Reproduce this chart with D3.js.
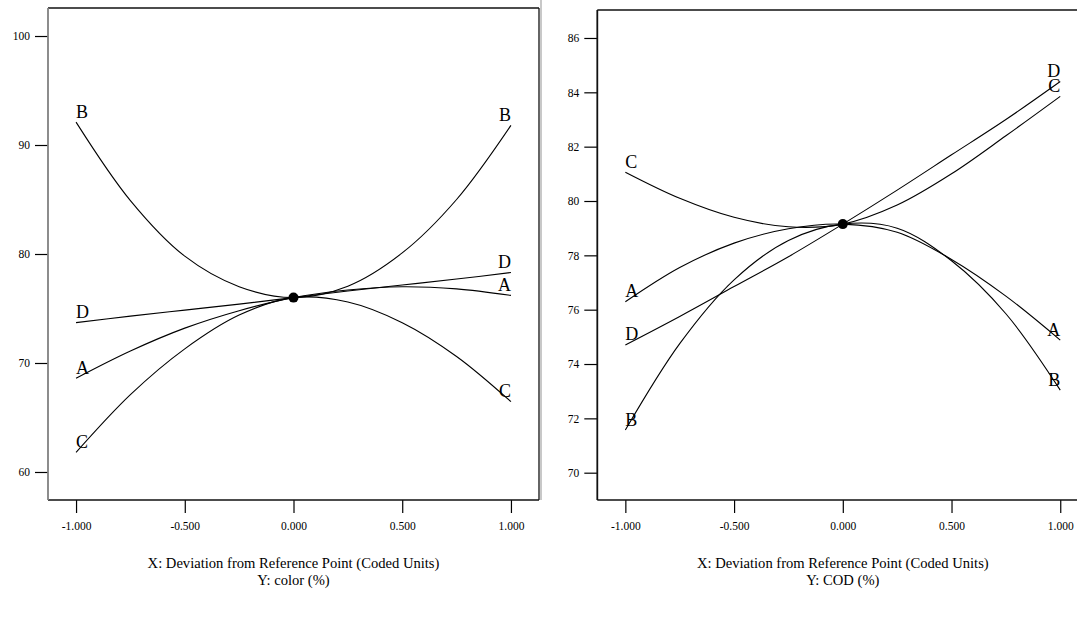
<!DOCTYPE html>
<html>
<head>
<meta charset="utf-8">
<script src="https://cdn.jsdelivr.net/npm/d3@7"></script>
<style>
  html, body { margin: 0; padding: 0; background: #fff; }
  svg { display: block; font-family: "Liberation Serif", "Times New Roman", serif; }
</style>
</head>
<body>
<div id="chart"></div>
<script>
// coded deviation from the reference point
const xs = [-1, -0.75, -0.5, -0.25, 0, 0.25, 0.5, 0.75, 1];
const xTicks = [-1, -0.5, 0, 0.5, 1];
const factors = ["A", "B", "C", "D"];

// Y: color (%)
const colorA = [68.6, 71.1, 73.2, 74.8, 76.0, 76.7, 77.0, 76.8, 76.2];
const colorB = [92.1, 84.9, 79.8, 77.0, 76.0, 77.05, 80.1, 85.0, 91.8];
const colorC = [61.8, 67.1, 71.3, 74.4, 76.0, 75.6, 73.7, 70.6, 66.45];
const colorD = [73.7, 74.3, 74.85, 75.4, 76.0, 76.6, 77.15, 77.7, 78.3];
const colorTicks = [60, 70, 80, 90, 100];

// Y: COD (%)
const codA = [76.29, 77.55, 78.45, 78.98, 79.15, 78.85, 77.85, 76.5, 74.88];
const codB = [71.57, 74.75, 77.1, 78.55, 79.15, 79.0, 77.8, 75.85, 73.04];
const codC = [81.06, 80.1, 79.4, 79.05, 79.15, 79.85, 81.0, 82.4, 83.85];
const codD = [74.7, 75.75, 76.85, 77.95, 79.15, 80.4, 81.7, 83.0, 84.4];
const codTicks = [70, 72, 74, 76, 78, 80, 82, 84, 86];

const W = 1077, H = 624;

const svg = d3.select("#chart").append("svg")
  .attr("width", W)
  .attr("height", H);

function drawPanel(opts) {
  const { left, right, top, bottom, yDomain, yTicks, series, yName, frameLeftColor } = opts;

  const x = d3.scaleLinear().domain([-1.129, 1.129]).range([left, right]);
  const y = d3.scaleLinear().domain(yDomain).range([bottom, top]);

  const g = svg.append("g");

  // y axis ticks
  const yAxis = g.append("g")
    .attr("transform", `translate(${left},0)`)
    .call(d3.axisLeft(y).tickValues(yTicks).tickSize(13).tickPadding(5).tickFormat((d) => String(d)));
  yAxis.select(".domain").remove();

  // x axis ticks (plain hyphen, as in the original)
  const xAxis = g.append("g")
    .attr("transform", `translate(0,${bottom})`)
    .call(d3.axisBottom(x).tickValues(xTicks).tickSize(13).tickPadding(9).tickFormat((d) => d.toFixed(3)));
  xAxis.select(".domain").remove();

  g.selectAll(".tick line").attr("stroke", "#000").attr("stroke-width", 1.2);
  g.selectAll(".tick text")
    .attr("fill", "#000")
    .style("font-family", "'Liberation Serif', serif")
    .style("font-size", "11.5px");

  // frame
  g.append("line").attr("x1", left).attr("x2", right).attr("y1", top).attr("y2", top)
    .attr("stroke", "#111").attr("stroke-width", 1.3);
  g.append("line").attr("x1", left).attr("x2", right).attr("y1", bottom).attr("y2", bottom)
    .attr("stroke", "#111").attr("stroke-width", 1.3);
  g.append("line").attr("x1", right).attr("x2", right).attr("y1", top).attr("y2", bottom)
    .attr("stroke", "#111").attr("stroke-width", 1.3);
  g.append("line").attr("x1", left).attr("x2", left).attr("y1", top).attr("y2", bottom)
    .attr("stroke", frameLeftColor).attr("stroke-width", 1.8);

  const line = d3.line()
    .x((d, i) => x(xs[i]))
    .y((d) => y(d))
    .curve(d3.curveCatmullRom.alpha(0.5));

  g.selectAll(".curve")
    .data(series)
    .enter()
    .append("path")
    .attr("class", "curve")
    .attr("d", (d) => line(d.values))
    .attr("fill", "none")
    .attr("stroke", "#000")
    .attr("stroke-width", 1.1);

  // factor labels at both ends
  g.selectAll(".lab-left")
    .data(series)
    .enter()
    .append("text")
    .attr("x", x(xs[0]))
    .attr("y", (d) => y(d.values[0]) - 4.5)
    .attr("text-anchor", "start")
    .style("font-size", "18px")
    .text((d) => d.name);

  g.selectAll(".lab-right")
    .data(series)
    .enter()
    .append("text")
    .attr("x", x(xs[xs.length - 1]))
    .attr("y", (d) => y(d.values[d.values.length - 1]) - 4.5)
    .attr("text-anchor", "end")
    .style("font-size", "18px")
    .text((d) => d.name);

  // reference point
  g.append("circle")
    .attr("cx", x(0))
    .attr("cy", y(series[0].values[4]))
    .attr("r", 5)
    .attr("fill", "#000");

  // axis titles
  const title = g.append("text")
    .attr("x", x(0))
    .attr("text-anchor", "middle")
    .style("font-size", "14.6px");
  title.append("tspan").attr("x", x(0)).attr("y", 568)
    .text("X: Deviation from Reference Point (Coded Units)");
  title.append("tspan").attr("x", x(0)).attr("y", 585)
    .text(yName);
}

drawPanel({
  left: 48, right: 539, top: 8, bottom: 500,
  yDomain: [57.43, 102.57],
  yTicks: colorTicks,
  series: [colorA, colorB, colorC, colorD].map((v, i) => ({ name: factors[i], values: v })),
  yName: "Y: color (%)",
  frameLeftColor: "#808080"
});

// thin grey separator between the two exported plots
svg.append("line")
  .attr("x1", 541).attr("x2", 541).attr("y1", 0).attr("y2", 500)
  .attr("stroke", "#c8c8c8").attr("stroke-width", 2);

drawPanel({
  left: 597.3, right: 1088.3, top: 10, bottom: 500,
  yDomain: [68.995, 87.03],
  yTicks: codTicks,
  series: [codA, codB, codC, codD].map((v, i) => ({ name: factors[i], values: v })),
  yName: "Y: COD (%)",
  frameLeftColor: "#111"
});
</script>
</body>
</html>
